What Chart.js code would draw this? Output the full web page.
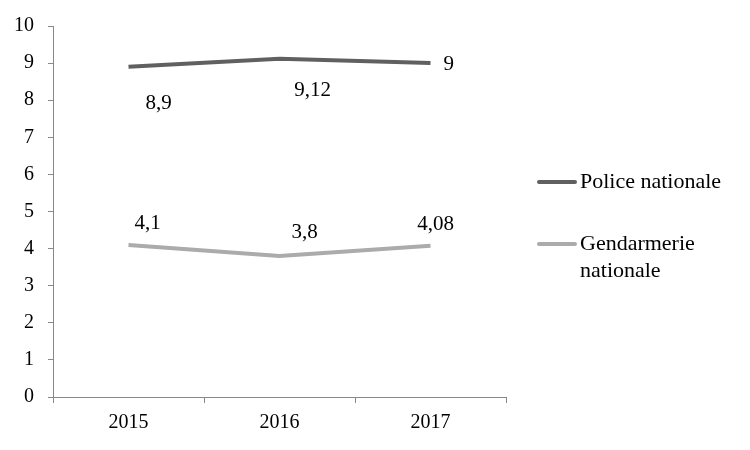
<!DOCTYPE html>
<html>
<head>
<meta charset="utf-8">
<script src="https://cdn.jsdelivr.net/npm/chart.js@4"></script>
<style>
  body { margin: 0; background: #fff; }
</style>
</head>
<body>
<canvas id="myChart" width="750" height="450"></canvas>
<script>
const years = ["2015", "2016", "2017"];
const police = [8.9, 9.12, 9];
const gendarmerie = [4.1, 3.8, 4.08];
const yTicks = [0, 1, 2, 3, 4, 5, 6, 7, 8, 9, 10];

const FONT = "'Liberation Serif', 'Times New Roman', serif";

// label offsets from the point, in px (Excel-like placement)
const policeLabelPos = [[30, 37, "center"], [33, 32, "center"], [13, 1, "left"]];
const gendLabelPos = [[19, -21, "center"], [25, -24, "center"], [5, -21, "center"]];

const fmt = (v) => String(v).replace(".", ",");

const labelsPlugin = {
  id: "labelsPlugin",
  afterDatasetsDraw(chart) {
    const ctx = chart.ctx;
    const x = chart.scales.x;
    const y = chart.scales.y;
    ctx.save();
    ctx.font = "21px " + FONT;
    ctx.fillStyle = "#000";
    ctx.textBaseline = "middle";
    const draw = (vals, pos) => {
      vals.forEach((v, i) => {
        ctx.textAlign = pos[i][2];
        ctx.fillText(fmt(v), x.getPixelForValue(i) + pos[i][0], y.getPixelForValue(v) + pos[i][1]);
      });
    };
    draw(police, policeLabelPos);
    draw(gendarmerie, gendLabelPos);

    // legend on the right
    const items = [
      { color: "#606060", lines: ["Police nationale"], y: 182 },
      { color: "#ababab", lines: ["Gendarmerie", "nationale"], y: 244 },
    ];
    ctx.font = "22px " + FONT;
    ctx.textAlign = "left";
    ctx.lineWidth = 4;
    ctx.lineCap = "round";
    items.forEach((it) => {
      ctx.strokeStyle = it.color;
      ctx.beginPath();
      ctx.moveTo(539, it.y);
      ctx.lineTo(575, it.y);
      ctx.stroke();
      it.lines.forEach((t, k) => ctx.fillText(t, 580, it.y + k * 27));
    });
    ctx.restore();
  },
};

const ctx = document.getElementById("myChart").getContext("2d");

const data = {
  labels: years,
  datasets: [
    {
      label: "Police nationale",
      data: police,
      borderColor: "#606060",
      backgroundColor: "#606060",
      borderWidth: 4,
      pointRadius: 0,
      tension: 0,
    },
    {
      label: "Gendarmerie nationale",
      data: gendarmerie,
      borderColor: "#ababab",
      backgroundColor: "#ababab",
      borderWidth: 4,
      pointRadius: 0,
      tension: 0,
    },
  ],
};

const config = {
  type: "line",
  data: data,
  options: {
    responsive: false,
    animation: false,
    layout: { padding: { left: 0, top: 22, right: 244, bottom: 0 } },
    plugins: {
      legend: { display: false },
      tooltip: { enabled: false },
    },
    scales: {
      x: {
        offset: true,
        grid: { drawOnChartArea: false, drawTicks: true, tickLength: 6, color: "#888", offset: true },
        border: { color: "#888" },
        ticks: { color: "#000", font: { family: FONT, size: 20 }, padding: 8 },
        afterFit: (s) => { s.height = 53; },
      },
      y: {
        min: 0,
        max: 10,
        afterBuildTicks: (s) => { s.ticks = yTicks.map((v) => ({ value: v })); },
        grid: { drawOnChartArea: false, drawTicks: true, tickLength: 5, color: "#888" },
        border: { color: "#888" },
        ticks: { color: "#000", font: { family: FONT, size: 20 }, padding: 14 },
        afterFit: (s) => { s.width = 53; },
      },
    },
  },
  plugins: [labelsPlugin],
};

const chart = new Chart(ctx, config);
</script>
</body>
</html>
